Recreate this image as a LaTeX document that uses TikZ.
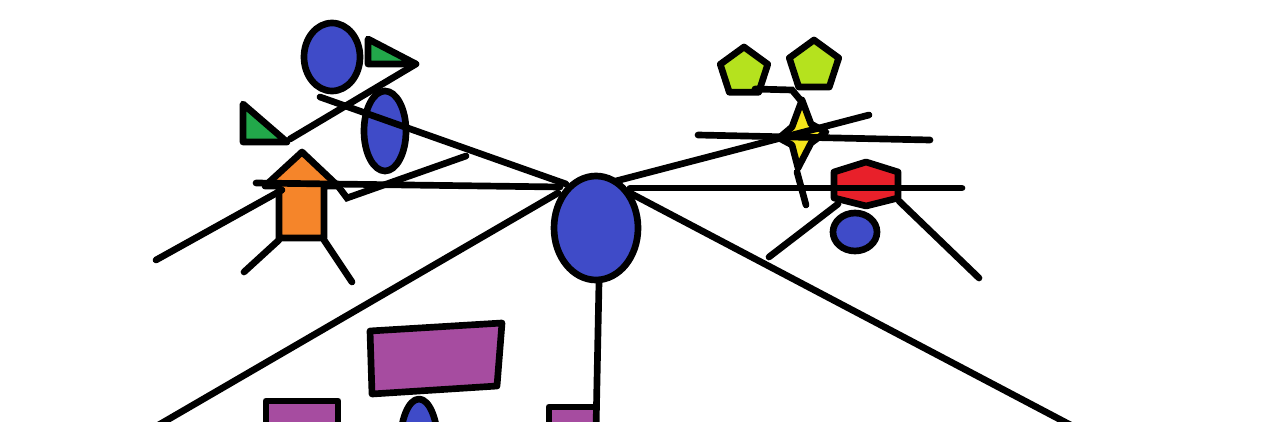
\documentclass[tikz,border=0pt]{standalone}
\usepackage{tikz}
\usepackage{xcolor}
\definecolor{blueshape}{RGB}{63,75,200}
\definecolor{greenshape}{RGB}{34,168,74}
\definecolor{orangeshape}{RGB}{245,133,42}
\definecolor{limeshape}{RGB}{181,226,30}
\definecolor{yellowshape}{RGB}{245,229,26}
\definecolor{redshape}{RGB}{232,32,42}
\definecolor{purpleshape}{RGB}{166,76,160}
\begin{document}
\begin{tikzpicture}[x=0.02cm,y=0.02cm]
\tikzstyle{shp}=[draw=black,line width=3.8pt,line join=round]
\tikzstyle{ln}=[black,line width=3.8pt,line cap=round]
\useasboundingbox (0,0) rectangle (1266,-422);
\clip (0,0) rectangle (1266,-422);
% left group shapes
\draw [shp,fill=blueshape] (332,-57) ellipse (28 and 34);
\draw [shp,fill=greenshape] (368,-39) -- (368,-64) -- (416,-64) -- cycle;
\draw [shp,fill=greenshape] (243,-104) -- (243,-142) -- (287,-142) -- cycle;
\draw [shp,fill=blueshape] (385,-131) ellipse (21 and 40);
\draw [shp,fill=orangeshape] (302,-152) -- (338,-186) -- (324,-186) -- (324,-238) -- (279,-238) -- (279,-186) -- (265,-186) -- cycle;
% right group shapes
\draw [shp,fill=limeshape] (744,-72) +(90:25) -- +(162:25) -- +(234:25) -- +(306:25) -- +(18:25) -- cycle;
\draw [shp,fill=limeshape] (814,-66) +(90:26) -- +(162:26) -- +(234:26) -- +(306:26) -- +(18:26) -- cycle;
\draw [shp,fill=yellowshape] (802,-100) -- (811,-124) -- (826,-132) -- (811,-143) -- (798,-168) -- (792,-145) -- (779,-138) -- (792,-127) -- cycle;
\draw [shp,fill=redshape] (866,-162) -- (898,-172) -- (898,-198) -- (866,-206) -- (834,-198) -- (834,-172) -- cycle;
\draw [shp,fill=blueshape] (855,-232) ellipse (22 and 19);
% bottom shapes
\draw [shp,fill=purpleshape] (370,-331) -- (502,-323) -- (497,-386) -- (372,-394) -- cycle;
\draw [shp,fill=purpleshape] (266,-401) rectangle (338,-440);
\draw [shp,fill=blueshape] (419,-446) ellipse (19 and 47);
\draw [shp,fill=purpleshape] (549,-407) rectangle (596,-440);
% left group lines
\draw [ln] (416,-64) -- (290,-139);
\draw [ln] (320,-97) -- (566,-184);
\draw [ln] (256,-183) -- (560,-187);
\draw [ln] (156,-260) -- (282,-190);
\draw [ln] (338,-186) -- (347,-198) -- (466,-156);
\draw [ln] (279,-240) -- (244,-272);
\draw [ln] (324,-240) -- (352,-282);
\draw [ln] (558,-193) -- (150,-430);
% right group lines
\draw [ln] (755,-89) -- (792,-90) -- (802,-102);
\draw [ln] (698,-135) -- (930,-140);
\draw [ln] (616,-181) -- (869,-115);
\draw [ln] (797,-172) -- (806,-205);
\draw [ln] (630,-188) -- (962,-188);
\draw [ln] (838,-204) -- (769,-257);
\draw [ln] (899,-201) -- (979,-278);
\draw [ln] (630,-193) -- (1080,-430);
\draw [ln] (599,-282) -- (596,-430);
% centre
\draw [shp,fill=blueshape] (596,-228) ellipse (42 and 52);
\end{tikzpicture}
\end{document}
